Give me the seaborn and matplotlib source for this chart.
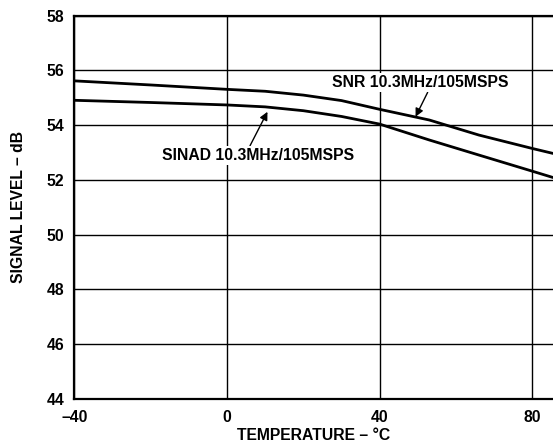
import numpy as np
import pandas as pd
import matplotlib
matplotlib.use("Agg")
import matplotlib.pyplot as plt
import seaborn as sns

# values
temperature = [-40, -20, 0, 10, 20, 30, 40, 53, 66, 80, 85.4]
snr = [55.62, 55.47, 55.31, 55.24, 55.10, 54.90, 54.58, 54.19, 53.64, 53.15, 52.97]
sinad = [54.91, 54.83, 54.74, 54.67, 54.53, 54.32, 54.04, 53.46, 52.91, 52.32, 52.09]

x_ticks = [-40, 0, 40, 80]
x_tick_labels = ["\u201340", "0", "40", "80"]
y_ticks = [44, 46, 48, 50, 52, 54, 56, 58]

sns.set_style("white")
plt.rcParams['font.family'] = ['Liberation Sans', 'DejaVu Sans']
plt.rcParams['font.weight'] = 'bold'
for key in ['text.color', 'axes.labelcolor', 'xtick.color', 'ytick.color']:
    plt.rcParams[key] = 'black'

fs = 11.3

fig = plt.figure(figsize=(5.53, 4.46), dpi=100)
ax = fig.add_axes([74.3 / 553, 1 - 399 / 446, 1 - 74.3 / 553, (399 - 15.7) / 446])

sns.lineplot(x=temperature, y=snr, ax=ax, color="black", linewidth=2.0)
sns.lineplot(x=temperature, y=sinad, ax=ax, color="black", linewidth=2.0)

ax.set_xlim(-40, 85.4)
ax.set_ylim(44, 58)
ax.set_xticks(x_ticks)
ax.set_xticklabels(x_tick_labels)
ax.set_yticks(y_ticks)
ax.grid(True, color="black", linewidth=1.0)
ax.tick_params(length=0, labelsize=fs)
ax.tick_params(axis="x", pad=8)
ax.tick_params(axis="y", pad=7)
for name in ["left", "bottom", "top"]:
    ax.spines[name].set_color("black")
    ax.spines[name].set_linewidth(1.6)
ax.spines["right"].set_visible(False)

ax.set_xlabel("TEMPERATURE \u2013 \u00b0C", fontsize=fs, fontweight="bold", labelpad=2)
ax.set_ylabel("SIGNAL LEVEL \u2013 dB", fontsize=fs, fontweight="bold", labelpad=15)

box = dict(facecolor="white", edgecolor="none", pad=1.5)
ax.annotate("SNR 10.3MHz/105MSPS", xy=(49.4, 54.31), xytext=(27.4, 55.55),
            fontsize=fs, fontweight="bold", va="center", ha="left", bbox=box,
            arrowprops=dict(arrowstyle="-|>", color="black", lw=1.0,
                            shrinkA=0, shrinkB=0, mutation_scale=12,
                            relpos=(0.55, 0.0)))
ax.annotate("SINAD 10.3MHz/105MSPS", xy=(10.6, 54.49), xytext=(-16.9, 52.9),
            fontsize=fs, fontweight="bold", va="center", ha="left", bbox=box,
            arrowprops=dict(arrowstyle="-|>", color="black", lw=1.0,
                            shrinkA=0, shrinkB=0, mutation_scale=12,
                            relpos=(0.45, 1.0)))

fig.savefig("out.png", dpi=100)
